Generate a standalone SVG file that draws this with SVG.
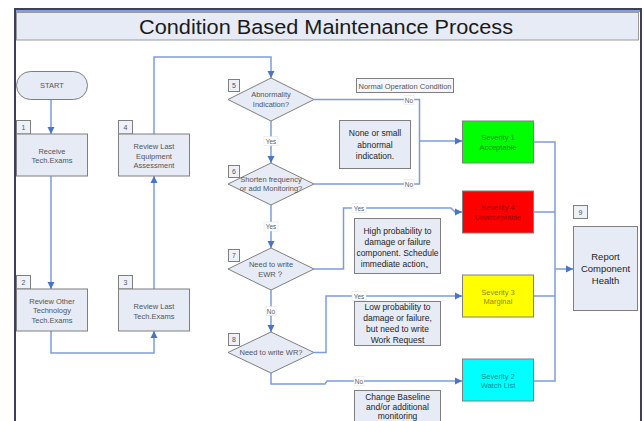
<svg xmlns="http://www.w3.org/2000/svg" width="644" height="421" viewBox="0 0 644 421">
<defs>
<marker id="arr" markerUnits="userSpaceOnUse" markerWidth="8" markerHeight="8" refX="7" refY="4" orient="auto">
<path d="M0,0.5 L7,4 L0,7.5 z" fill="#4a74c6"/>
</marker>
<style>
.box{fill:#e6ebf5;stroke:#7f7f7f;stroke-width:1}
.tag{fill:#eef1f8;stroke:#7f7f7f;stroke-width:1}
.t{font-family:"Liberation Sans",Arial,sans-serif;font-size:7.5px;fill:#555;text-anchor:middle}
.tg{font-family:"Liberation Sans",Arial,sans-serif;font-size:7px;fill:#555;text-anchor:middle}
.b{font-family:"Liberation Sans",Arial,sans-serif;font-size:8.5px;fill:#1e1e1e;text-anchor:middle}
.sv{font-family:"Liberation Sans",Arial,sans-serif;font-size:7.5px;fill:#000;fill-opacity:0.5;text-anchor:middle}
.ln{fill:none;stroke:#7c9ddc;stroke-width:1.5}
.lb{fill:#fff;stroke:#e0e0e0;stroke-width:0.5}
.lt{font-family:"Liberation Sans",Arial,sans-serif;font-size:6.5px;fill:#606060;text-anchor:middle}
</style>
</defs>
<rect width="644" height="421" fill="#fff"/>
<g id="frame">
<path d="M15,421 V9 H641 V421" fill="none" stroke="#3c4058" stroke-width="2"/>
<line x1="16" y1="11" x2="640" y2="11" stroke="#5b7fd4" stroke-width="1.5"/>
<rect x="16.5" y="12.5" width="622" height="27.5" fill="#e6ebf5" stroke="#9a9a9a" stroke-width="1"/>
<text x="326" y="34" font-family="'Liberation Sans',Arial,sans-serif" font-size="20.5" fill="#1a1a1a" text-anchor="middle" textLength="374" lengthAdjust="spacingAndGlyphs">Condition Based Maintenance Process</text>
</g>
<g id="connectors">
<path class="ln" d="M51,99 V134" marker-end="url(#arr)"/>
<path class="ln" d="M51,176 V289" marker-end="url(#arr)"/>
<path class="ln" d="M51,331 V353 H154 V331" marker-end="url(#arr)"/>
<path class="ln" d="M154,289 V176" marker-end="url(#arr)"/>
<path class="ln" d="M154,134 V57 H271 V78" marker-end="url(#arr)"/>
<path class="ln" d="M271,121 V163" marker-end="url(#arr)"/>
<path class="ln" d="M271,205 V248" marker-end="url(#arr)"/>
<path class="ln" d="M271,290 V332" marker-end="url(#arr)"/>
<path class="ln" d="M314,99.5 H419.5 V184 H314"/>
<path class="ln" d="M419.5,141 H462" marker-end="url(#arr)"/>
<path class="ln" d="M314,269 H343.5 V208 H451 L455,212 H462" marker-end="url(#arr)"/>
<path class="ln" d="M314,352.5 H326 V296 H462" marker-end="url(#arr)"/>
<path class="ln" d="M271,373 V384 H325 L327,381 H462" marker-end="url(#arr)"/>
<path class="ln" d="M534,142 H555 V381 H534 M534,212 H555 M534,296 H555"/>
<path class="ln" d="M555,269 H573" marker-end="url(#arr)"/>
<rect class="lb" x="264" y="136.5" width="14" height="9"/><text class="lt" x="271" y="143.5">Yes</text>
<rect class="lb" x="264" y="222" width="14" height="9"/><text class="lt" x="271" y="229">Yes</text>
<rect class="lb" x="266" y="306.5" width="10" height="9"/><text class="lt" x="271" y="313.5">No</text>
<rect class="lb" x="404" y="95.5" width="10" height="9"/><text class="lt" x="409" y="102.5">No</text>
<rect class="lb" x="404" y="179.5" width="10" height="9"/><text class="lt" x="409" y="186.5">No</text>
<rect class="lb" x="352" y="203.5" width="14" height="9"/><text class="lt" x="359" y="210.5">Yes</text>
<rect class="lb" x="352" y="291.5" width="14" height="9"/><text class="lt" x="359" y="298.5">Yes</text>
<rect class="lb" x="354" y="376.5" width="10" height="9"/><text class="lt" x="359" y="383.5">No</text>
</g>
<g id="start"><rect class="box" x="16.5" y="71.5" width="71" height="28" rx="14"/><text class="t" x="52" y="88">START</text></g>
<g id="n1"><rect class="tag" x="16.5" y="120.5" width="14" height="13.5"/><text class="tg" x="23.5" y="130">1</text>
<rect class="box" x="16.5" y="134" width="71" height="42"/><text class="t" x="52" y="153.5">Receive</text><text class="t" x="52" y="163">Tech.Exams</text></g>
<g id="n2"><rect class="tag" x="16.5" y="275.5" width="14" height="13.5"/><text class="tg" x="23.5" y="285">2</text>
<rect class="box" x="16.5" y="289" width="71" height="42"/><text class="t" x="52" y="303.5">Review Other</text><text class="t" x="52" y="313">Technology</text><text class="t" x="52" y="322.5">Tech.Exams</text></g>
<g id="n3"><rect class="tag" x="118.5" y="275.5" width="14" height="13.5"/><text class="tg" x="125.5" y="285">3</text>
<rect class="box" x="118.5" y="289" width="71" height="42"/><text class="t" x="154" y="309">Review Last</text><text class="t" x="154" y="318.5">Tech.Exams</text></g>
<g id="n4"><rect class="tag" x="118.5" y="120.5" width="14" height="13.5"/><text class="tg" x="125.5" y="130">4</text>
<rect class="box" x="118.5" y="134" width="71" height="42"/><text class="t" x="154" y="149">Review Last</text><text class="t" x="154" y="158.5">Equipment</text><text class="t" x="154" y="168">Assessment</text></g>
<g id="n5"><rect class="tag" x="228.5" y="79.5" width="11" height="12"/><text class="tg" x="234" y="88">5</text>
<polygon class="box" points="271,78 314,99.5 271,121 228,99.5"/><text class="t" x="271" y="97">Abnormality</text><text class="t" x="271" y="107">Indication?</text></g>
<g id="n6"><rect class="tag" x="228.5" y="165.5" width="11" height="12"/><text class="tg" x="234" y="174">6</text>
<polygon class="box" points="271,163 314,184 271,205 228,184"/><text class="t" x="271" y="182">Shorten frequency</text><text class="t" x="271" y="191">or add Monitoring?</text></g>
<g id="n7"><rect class="tag" x="228.5" y="249.5" width="11" height="12"/><text class="tg" x="234" y="258">7</text>
<polygon class="box" points="271,248 314,269 271,290 228,269"/><text class="t" x="271" y="267">Need to write</text><text class="t" x="271" y="276.5">EWR？</text></g>
<g id="n8"><rect class="tag" x="228.5" y="333.5" width="11" height="12"/><text class="tg" x="234" y="342">8</text>
<polygon class="box" points="271,332 314,352.5 271,373 228,352.5"/><text class="t" x="271" y="355">Need to write WR?</text></g>
<g id="normal"><rect class="box" x="356.5" y="78.5" width="97" height="14" style="fill:#f4f6fb"/><text class="t" x="405" y="88.5">Normal Operation Condition</text></g>
<g id="note1"><rect class="box" x="339.5" y="120.5" width="71" height="48"/><text class="b" x="375" y="136">None or small</text><text class="b" x="375" y="148">abnormal</text><text class="b" x="375" y="159">indication.</text></g>
<g id="note2"><rect class="box" x="354.5" y="218.5" width="86" height="55"/><text class="b" x="397.5" y="234">High probability to</text><text class="b" x="397.5" y="245">damage or failure</text><text class="b" x="397.5" y="256">component. Schedule</text><text class="b" x="397.5" y="266.5">immediate action。</text></g>
<g id="note3"><rect class="box" x="354.5" y="301.5" width="86" height="44"/><text class="b" x="397.5" y="310">Low probability to</text><text class="b" x="397.5" y="321">damage or failure,</text><text class="b" x="397.5" y="332">but need to write</text><text class="b" x="397.5" y="343">Work Request</text></g>
<g id="note4"><rect class="box" x="354.5" y="390.5" width="86" height="40"/><text class="b" x="397.5" y="400">Change Baseline</text><text class="b" x="397.5" y="409.5">and/or additional</text><text class="b" x="397.5" y="418.8">monitoring</text></g>
<g id="sev1"><rect x="462.5" y="121" width="71" height="42" fill="#00ff00" stroke="#7f7f7f"/><text class="sv" x="498" y="139.5">Severity 1</text><text class="sv" x="498" y="149.5">Acceptable</text></g>
<g id="sev4"><rect x="462.5" y="191" width="71" height="42" fill="#ff0000" stroke="#7f7f7f"/><text class="sv" x="498" y="209.5">Severity 4</text><text class="sv" x="498" y="219.5">Unacceptable</text></g>
<g id="sev3"><rect x="462.5" y="275" width="71" height="42" fill="#ffff00" stroke="#7f7f7f"/><text class="sv" x="498" y="294.5">Severity 3</text><text class="sv" x="498" y="304">Marginal</text></g>
<g id="sev2"><rect x="462.5" y="359" width="71" height="42" fill="#00ffff" stroke="#7f7f7f"/><text class="sv" x="498" y="378.5">Severity 2</text><text class="sv" x="498" y="388">Watch List</text></g>
<g id="n9"><rect class="tag" x="573.5" y="205.5" width="14" height="13"/><text class="tg" x="580.5" y="214.5">9</text>
<rect class="box" x="573.5" y="226.5" width="64" height="84"/><text class="b" x="605.5" y="260" style="font-size:9.5px">Report</text><text class="b" x="605.5" y="272" style="font-size:9.5px">Component</text><text class="b" x="605.5" y="284" style="font-size:9.5px">Health</text></g>
</svg>
